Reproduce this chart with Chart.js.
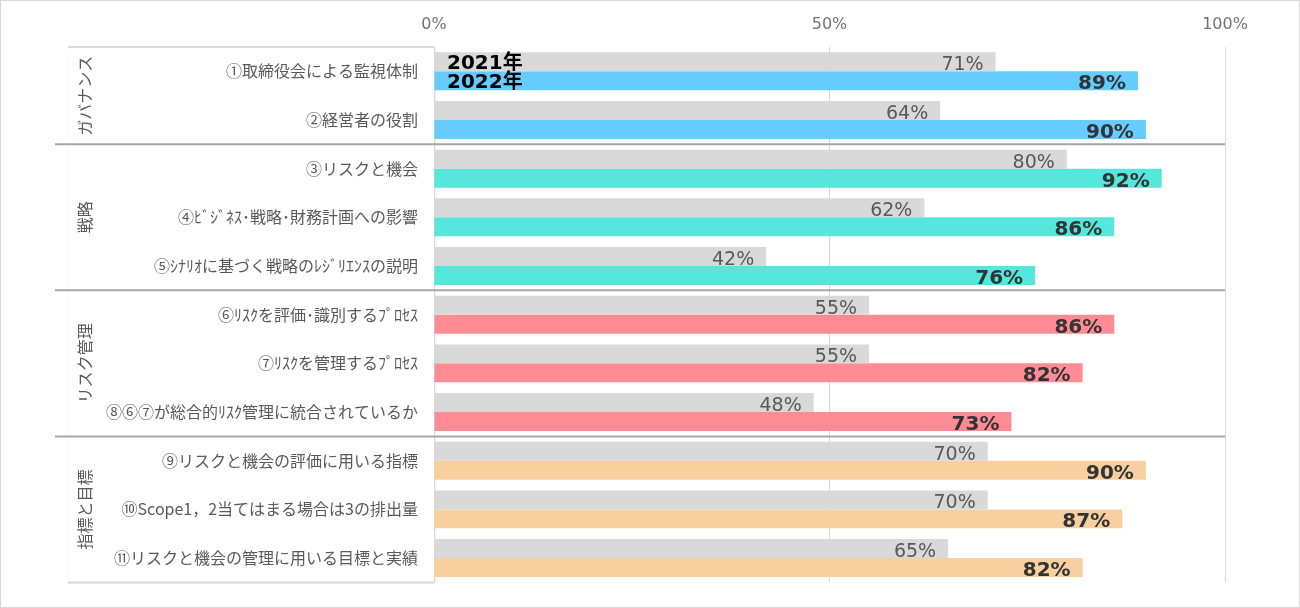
<!DOCTYPE html>
<html><head><meta charset="utf-8">
<script src="https://cdn.jsdelivr.net/npm/chart.js@4/dist/chart.umd.min.js"></script>
<style>html,body{margin:0;padding:0;background:#fff}#wrap{width:1300px;height:608px}</style>
</head><body><div id="wrap"><canvas id="c" width="1300" height="608"></canvas></div>
<script>
const categories = [
  '①取締役会による監視体制',
  '②経営者の役割',
  '③リスクと機会',
  '④ﾋﾞｼﾞﾈｽ･戦略･財務計画への影響',
  '⑤ｼﾅﾘｵに基づく戦略のﾚｼﾞﾘｴﾝｽの説明',
  '⑥ﾘｽｸを評価･識別するﾌﾟﾛｾｽ',
  '⑦ﾘｽｸを管理するﾌﾟﾛｾｽ',
  '⑧⑥⑦が総合的ﾘｽｸ管理に統合されているか',
  '⑨リスクと機会の評価に用いる指標',
  '⑩Scope1，2当てはまる場合は3の排出量',
  '⑪リスクと機会の管理に用いる目標と実績'
];
const values2021 = [71, 64, 80, 62, 42, 55, 55, 48, 70, 70, 65];
const values2022 = [89, 90, 92, 86, 76, 86, 82, 73, 90, 87, 82];
const seriesNames = ['2021年', '2022年'];
const groupNames = ['ガバナンス', '戦略', 'リスク管理', '指標と目標'];
const groupSizes = [2, 3, 3, 3];
const xTicks = [0, 50, 100];

const groupColors = ['#66CCFF', '#55E6DC', '#FF8C94', '#F8D0A0'];
const colors2022 = [];
groupSizes.forEach((n, g) => { for (let i = 0; i < n; i++) colors2022.push(groupColors[g]); });

const CHART_LEFT = 434, CHART_TOP = 47;

const decor = {
  id: 'decor',
  beforeDraw(chart) {
    const ctx = chart.ctx, a = chart.chartArea;
    ctx.save();
    ctx.fillStyle = '#fff';
    ctx.fillRect(0, 0, chart.width, chart.height);
    ctx.strokeStyle = '#D9D9D9';
    ctx.lineWidth = 1;
    ctx.strokeRect(0.5, 0.5, chart.width - 1, chart.height - 1);
    ctx.shadowColor = 'rgba(0,0,0,0.12)';
    ctx.shadowBlur = 3;
    ctx.shadowOffsetX = 1; ctx.shadowOffsetY = 1;
    ctx.fillStyle = '#fff';
    ctx.fillRect(68, a.top, a.left - 68, a.bottom - a.top);
    ctx.restore();
    ctx.save();
    ctx.strokeStyle = '#D9D9D9';
    ctx.lineWidth = 2;
    ctx.beginPath();
    ctx.moveTo(68, a.top); ctx.lineTo(a.left, a.top);
    ctx.moveTo(68, a.bottom); ctx.lineTo(a.left, a.bottom);
    ctx.stroke();
    ctx.lineWidth = 1;
    ctx.beginPath();
    ctx.moveTo(a.left + 0.5, a.top); ctx.lineTo(a.left + 0.5, a.bottom);
    ctx.stroke();
    ctx.restore();
  },
  afterDatasetsDraw(chart) {
    const ctx = chart.ctx, a = chart.chartArea;
    const xScale = chart.scales.x;
    const m0 = chart.getDatasetMeta(0), m1 = chart.getDatasetMeta(1);
    ctx.save();
    const step = (a.bottom - a.top) / categories.length;
    let idx = 0;
    ctx.strokeStyle = '#A6A6A6';
    ctx.lineWidth = 2;
    groupSizes.forEach((n, g) => {
      const y0 = a.top + idx * step;
      const y1 = a.top + (idx + n) * step;
      if (g < groupSizes.length - 1) {
        ctx.beginPath();
        ctx.moveTo(55, y1); ctx.lineTo(a.right, y1);
        ctx.stroke();
      }
      ctx.save();
      ctx.translate(85, (y0 + y1) / 2);
      ctx.rotate(-Math.PI / 2);
      ctx.fillStyle = '#595959';
      ctx.font = '16px "Noto Sans CJK JP"';
      ctx.textAlign = 'center';
      ctx.textBaseline = 'middle';
      ctx.fillText(groupNames[g], 0, 0);
      ctx.restore();
      idx += n;
    });
    ctx.textAlign = 'right';
    ctx.textBaseline = 'alphabetic';
    m0.data.forEach((bar, i) => {
      ctx.font = '19px "DejaVu Sans"';
      ctx.fillStyle = '#595959';
      ctx.fillText(values2021[i] + '%', bar.x - 12, bar.y + bar.height / 2 - 1);
    });
    m1.data.forEach((bar, i) => {
      ctx.font = 'bold 20px "DejaVu Sans"';
      ctx.fillStyle = '#333333';
      ctx.fillText(values2022[i] + '%', bar.x - 12, bar.y + bar.height / 2 - 1);
    });
    ctx.textAlign = 'left';
    ctx.fillStyle = '#000';
    ctx.font = 'bold 20px "DejaVu Sans", "Noto Sans CJK JP"';
    const x0 = xScale.getPixelForValue(0) + 13;
    [m0, m1].forEach((m, k) => {
      const b = m.data[0];
      ctx.fillText(seriesNames[k], x0, b.y + b.height / 2 - 2);
    });
    ctx.restore();
  }
};

new Chart(document.getElementById('c'), {
  type: 'bar',
  data: {
    labels: categories,
    datasets: [
      { label: seriesNames[0], data: values2021, backgroundColor: '#D9D9D9', categoryPercentage: 0.78, barPercentage: 1.0 },
      { label: seriesNames[1], data: values2022, backgroundColor: colors2022, categoryPercentage: 0.78, barPercentage: 1.0 }
    ]
  },
  options: {
    indexAxis: 'y',
    responsive: false,
    animation: false,
    layout: { padding: { left: 0, right: 75, top: 0, bottom: 23 } },
    plugins: { legend: { display: false }, tooltip: { enabled: false } },
    scales: {
      x: {
        position: 'top',
        min: 0, max: 100,
        afterBuildTicks(scale) { scale.ticks = xTicks.map(v => ({ value: v })); },
        afterFit(scale) { scale.height = CHART_TOP; },
        ticks: {
          callback: v => v + '%',
          color: '#737373',
          font: { family: 'DejaVu Sans', size: 16 },
          padding: 13,
          maxRotation: 0
        },
        grid: {
          drawTicks: false,
          color: ctx => (ctx.tick && ctx.tick.value === 0) ? 'rgba(0,0,0,0)' : '#D9D9D9',
          lineWidth: 1
        },
        border: { display: false }
      },
      y: {
        afterFit(scale) { scale.width = CHART_LEFT; },
        ticks: {
          color: '#595959',
          font: { family: 'Noto Sans CJK JP', size: 16 },
          padding: 16
        },
        grid: { display: false, drawTicks: false },
        border: { display: false }
      }
    }
  },
  plugins: [decor]
});
</script>
</body></html>
